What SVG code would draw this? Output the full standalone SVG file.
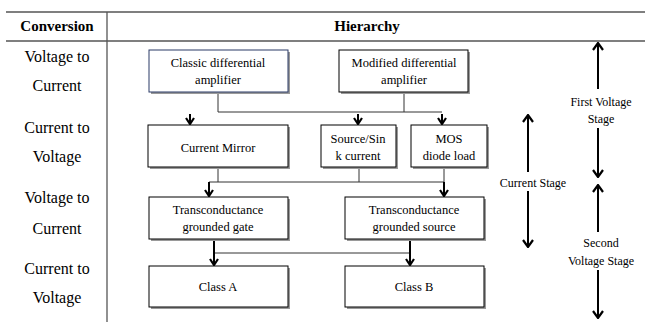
<svg xmlns="http://www.w3.org/2000/svg" width="645" height="322" viewBox="0 0 645 322">
<defs>
<style>
.h{font-size:15px;font-weight:bold;text-anchor:middle}
.l{font-size:16px;text-anchor:middle}
.b{font-size:12.5px;text-anchor:middle}
.s{font-size:12px;text-anchor:middle}
.box{fill:#fff;stroke:#000;stroke-width:1}
.sh{fill:#9a9a9a}
.grid{stroke:#555;stroke-width:1.3;fill:none}
.c{stroke:#333;stroke-width:1;fill:none}
.ca{stroke:#000;stroke-width:2;fill:none}
.st{stroke:#000;stroke-width:2;fill:none}
</style>
<marker id="ah" viewBox="0 0 10 10" refX="5" refY="9" markerWidth="10" markerHeight="10" markerUnits="userSpaceOnUse" orient="0">
<path d="M1,3 L5,9 L9,3" fill="none" stroke="#000" stroke-width="2.2"/>
</marker>
<marker id="ad" viewBox="0 0 12 12" refX="6" refY="11" markerWidth="12" markerHeight="12" markerUnits="userSpaceOnUse" orient="0">
<path d="M1,4 L6,11 L11,4" fill="none" stroke="#000" stroke-width="2.2"/>
</marker>
<marker id="au" viewBox="0 0 12 12" refX="6" refY="1" markerWidth="12" markerHeight="12" markerUnits="userSpaceOnUse" orient="0">
<path d="M1,8 L6,1 L11,8" fill="none" stroke="#000" stroke-width="2.2"/>
</marker>
</defs>
<rect width="645" height="322" fill="#fff"/>
<g font-family="Liberation Serif, serif" fill="#000">
<g id="table">
<line class="grid" x1="6" y1="12" x2="645" y2="12"/>
<line class="grid" x1="6" y1="41" x2="645" y2="41"/>
<line class="grid" x1="107" y1="12" x2="107" y2="322"/>
<text class="h" x="57" y="31">Conversion</text>
<text class="h" x="367" y="31">Hierarchy</text>
<text class="l" x="57" y="62">Voltage  to</text>
<text class="l" x="57" y="91">Current</text>
<text class="l" x="57" y="133">Current  to</text>
<text class="l" x="57" y="162">Voltage</text>
<text class="l" x="57" y="203">Voltage  to</text>
<text class="l" x="57" y="234">Current</text>
<text class="l" x="57" y="274">Current  to</text>
<text class="l" x="57" y="303">Voltage</text>
</g>
<g id="connectors">
<line class="c" x1="218" y1="92" x2="218" y2="112"/>
<line class="c" x1="404" y1="92" x2="404" y2="112"/>
<line class="c" x1="218" y1="112" x2="442" y2="112"/>
<line class="ca" x1="190" y1="114" x2="190" y2="124" marker-end="url(#ah)"/>
<line class="ca" x1="358" y1="114" x2="358" y2="124" marker-end="url(#ah)"/>
<line class="ca" x1="442" y1="114" x2="442" y2="124" marker-end="url(#ah)"/>
<line class="c" x1="218" y1="168" x2="218" y2="182"/>
<line class="c" x1="359" y1="168" x2="359" y2="182"/>
<line class="c" x1="444" y1="168" x2="444" y2="182"/>
<line class="c" x1="209" y1="182" x2="444" y2="182"/>
<line class="ca" x1="209" y1="182" x2="209" y2="196" marker-end="url(#ah)"/>
<line class="ca" x1="444" y1="182" x2="444" y2="196" marker-end="url(#ah)"/>
<line class="c" x1="214" y1="253" x2="410" y2="253"/>
<line class="ca" x1="214" y1="240" x2="214" y2="265" marker-end="url(#ah)"/>
<line class="ca" x1="410" y1="240" x2="410" y2="265" marker-end="url(#ah)"/>
</g>
<g id="classic">
<rect class="sh" x="151" y="52" width="139" height="42"/>
<rect class="box" x="149" y="50" width="139" height="42" style="stroke:#2b3a67"/>
<text class="b" x="218" y="67">Classic differential</text>
<text class="b" x="218" y="84">amplifier</text>
</g>
<g id="modified">
<rect class="sh" x="341" y="52" width="129" height="42"/>
<rect class="box" x="339" y="50" width="129" height="42"/>
<text class="b" x="404" y="67">Modified differential</text>
<text class="b" x="404" y="84">amplifier</text>
</g>
<g id="mirror">
<rect class="sh" x="150" y="127" width="140" height="42"/>
<rect class="box" x="148" y="125" width="140" height="42"/>
<text class="b" x="218" y="152">Current Mirror</text>
</g>
<g id="sourcesink">
<rect class="sh" x="323" y="127" width="75" height="42"/>
<rect class="box" x="321" y="125" width="75" height="42"/>
<text class="b" x="358" y="143">Source/Sin</text>
<text class="b" x="358" y="160">k current</text>
</g>
<g id="mos">
<rect class="sh" x="413" y="127" width="76" height="42"/>
<rect class="box" x="411" y="125" width="76" height="42"/>
<text class="b" x="449" y="143">MOS</text>
<text class="b" x="449" y="160">diode load</text>
</g>
<g id="gate">
<rect class="sh" x="151" y="199" width="139" height="42"/>
<rect class="box" x="149" y="197" width="139" height="42"/>
<text class="b" x="218" y="214">Transconductance</text>
<text class="b" x="218" y="231">grounded gate</text>
</g>
<g id="source">
<rect class="sh" x="347" y="199" width="139" height="42"/>
<rect class="box" x="345" y="197" width="139" height="42"/>
<text class="b" x="414" y="214">Transconductance</text>
<text class="b" x="414" y="231">grounded source</text>
</g>
<g id="classA">
<rect class="sh" x="151" y="268" width="139" height="41"/>
<rect class="box" x="149" y="266" width="139" height="41"/>
<text class="b" x="218" y="291">Class A</text>
</g>
<g id="classB">
<rect class="sh" x="347" y="268" width="139" height="41"/>
<rect class="box" x="345" y="266" width="139" height="41"/>
<text class="b" x="414" y="291">Class B</text>
</g>
<g id="stages">
<line class="st" x1="598" y1="43" x2="598" y2="89" marker-start="url(#au)"/>
<text class="s" x="601" y="106">First Voltage</text>
<text class="s" x="601" y="123">Stage</text>
<line class="st" x1="598" y1="128" x2="598" y2="177" marker-end="url(#ad)"/>
<line class="st" x1="528" y1="115" x2="528" y2="172" marker-start="url(#au)"/>
<text class="s" x="533" y="187">Current Stage</text>
<line class="st" x1="528" y1="191" x2="528" y2="247" marker-end="url(#ad)"/>
<line class="st" x1="598" y1="185" x2="598" y2="232" marker-start="url(#au)"/>
<text class="s" x="601" y="247">Second</text>
<text class="s" x="601" y="265">Voltage Stage</text>
<line class="st" x1="598" y1="270" x2="598" y2="318" marker-end="url(#ad)"/>
</g>
</g>
</svg>
